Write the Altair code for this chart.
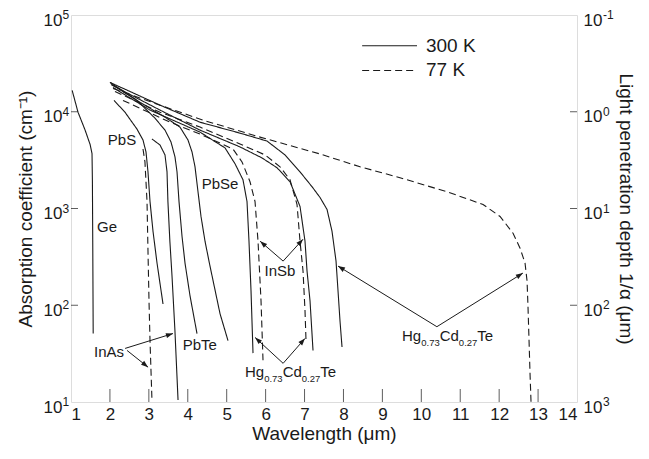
import math
import altair as alt
import pandas as pd

W, H = 506, 387
XDOM = [1, 14]
YDOM = [10, 100000]
FONT = "Liberation Sans"
INK = "#1a1a1a"

# ---- curves: wavelength (um) / absorption coefficient (cm^-1) ----
ge_x = [1.03, 1.18, 1.36, 1.49, 1.54, 1.55, 1.56, 1.57]
ge_y = [16600, 9900, 6500, 4600, 3700, 1900, 360, 51]

pbs_x = [2.105, 2.387, 2.696, 2.85, 2.927, 2.978, 3.03, 3.107, 3.21, 3.364]
pbs_y = [13100, 9890, 6610, 5100, 3840, 2390, 1180, 581, 273, 103]

inas300_x = [3.08, 3.287, 3.415, 3.467, 3.49, 3.54, 3.595, 3.67, 3.75]
inas300_y = [5230, 4530, 3580, 2390, 1180, 459, 201, 55, 10.5]

inas77_x = [2.85, 2.90, 2.953, 2.978, 3.004, 3.03, 3.08]
inas77_y = [4120, 3030, 1180, 362, 111, 43, 10.5]

pbte_x = [2.002, 2.696, 3.158, 3.415, 3.569, 3.672, 3.724, 3.775, 3.852, 3.929, 4.058, 4.237]
pbte_y = [20100, 13100, 8570, 6460, 4870, 3410, 2390, 1180, 517, 273, 125, 51]

pbse_x = [2.053, 2.773, 3.415, 3.80, 4.006, 4.109, 4.186, 4.263, 4.34, 4.443, 4.571, 4.828, 5.034]
pbse_y = [19100, 12500, 8790, 6940, 5100, 3840, 2700, 1490, 828, 459, 254, 82, 43]

e300_x = [2.079, 3.03, 4.314, 4.957, 5.214, 5.419, 5.522, 5.573, 5.625, 5.676]
e300_y = [17800, 10400, 6160, 4230, 2900, 1980, 1180, 459, 141, 32]

f77_x = [2.336, 3.544, 4.314, 5.162, 5.394, 5.599, 5.728, 5.805, 5.882, 5.933]
f77_y = [13100, 7800, 5880, 4120, 3030, 1890, 1180, 459, 111, 27]

g300_x = [2.028, 3.287, 4.314, 5.342, 5.908, 6.293, 6.627, 6.884, 7.012, 7.064, 7.141, 7.218]
g300_y = [19100, 10400, 6460, 4330, 3330, 2640, 1890, 1050, 459, 226, 111, 34]

h77_x = [2.13, 3.287, 4.314, 5.342, 5.985, 6.37, 6.627, 6.807, 6.884, 6.961, 7.012, 7.038]
h77_y = [16200, 9890, 6940, 4640, 3580, 2700, 1980, 1100, 459, 226, 88, 43]

i300_x = [2.002, 3.287, 4.314, 5.342, 6.036, 6.498, 6.884, 7.192, 7.398, 7.578, 7.706, 7.809, 7.86, 7.911, 7.963]
i300_y = [20100, 11700, 7800, 6010, 4980, 3580, 2390, 1680, 1300, 977, 581, 286, 141, 69, 37]

j77_x = [2.079, 3.287, 4.392, 5.856, 7.398, 8.425, 9.453, 10.661, 11.586, 12.023, 12.357,
         12.537, 12.665, 12.717, 12.742, 12.768, 12.793, 12.819]
j77_y = [17400, 11700, 8180, 5470, 3660, 2700, 2080, 1490, 1100, 828, 555,
         389, 273, 178, 94, 43, 19.8, 10]

curves = [
    ("ge", "300 K", ge_x, ge_y), ("pbs", "300 K", pbs_x, pbs_y),
    ("inas300", "300 K", inas300_x, inas300_y), ("inas77", "77 K", inas77_x, inas77_y),
    ("pbte", "300 K", pbte_x, pbte_y), ("pbse", "300 K", pbse_x, pbse_y),
    ("e300", "300 K", e300_x, e300_y), ("f77", "77 K", f77_x, f77_y),
    ("g300", "300 K", g300_x, g300_y), ("h77", "77 K", h77_x, h77_y),
    ("i300", "300 K", i300_x, i300_y), ("j77", "77 K", j77_x, j77_y),
]
rows = []
for name, temp, xs, ys in curves:
    for i, (a, b) in enumerate(zip(xs, ys)):
        rows.append(dict(curve=name, temp=temp, wl=a, alpha=b, idx=i))
df_curves = pd.DataFrame(rows)

# ---- labels ----
lab_text = ["Ge", "PbS", "PbSe", "InSb", "InAs", "PbTe"]
lab_x = [1.925, 2.31, 4.83, 6.37, 1.976, 4.31]
lab_y = [650, 5100, 1800, 226, 32.6, 38.5]
df_lab = pd.DataFrame(dict(t=lab_text, wl=lab_x, alpha=lab_y))

hg_x = [5.47, 9.505]
hg_y = [18.0, 42.6]
hg_parts = ["Hg", "0.73", "Cd", "0.27", "Te"]
hg_sub = [False, True, False, True, False]

# ---- arrows (origin -> tip) ----
arr_x0 = [2.39, 2.44, 6.45, 6.45, 6.45, 6.45, 10.40, 10.40]
arr_y0 = [35.8, 34.1, 286, 286, 25.1, 25.1, 60, 60]
arr_x1 = [3.62, 2.98, 5.86, 6.96, 5.73, 7.01, 7.86, 12.61]
arr_y1 = [51, 22.9, 459, 481, 46.4, 45.3, 254, 215]

# ---- legend ----
leg_temp = ["300 K", "77 K"]
leg_x1 = [8.48, 8.48]
leg_x2 = [9.89, 9.89]
leg_y = [48100, 26700]
leg_tx = [10.12, 10.12]

# ---- axis ticks ----
x_tick_vals = list(range(1, 15))
y_tick_vals = [10, 100, 1000, 10000, 100000]
r_tick_vals = [0.1, 1, 10, 100, 1000]


def to_px(x):
    return (x - XDOM[0]) / (XDOM[1] - XDOM[0]) * W


def to_py(y):
    return (math.log10(YDOM[1]) - math.log10(y)) / (math.log10(YDOM[1]) - math.log10(YDOM[0])) * H


arow, hrow = [], []
for k in range(len(arr_x0)):
    arow.append(dict(a=k, idx=0, wl=arr_x0[k], alpha=arr_y0[k]))
    arow.append(dict(a=k, idx=1, wl=arr_x1[k], alpha=arr_y1[k]))
    ang = math.degrees(math.atan2(to_py(arr_y1[k]) - to_py(arr_y0[k]),
                                  to_px(arr_x1[k]) - to_px(arr_x0[k]))) % 360
    hrow.append(dict(wl=arr_x1[k], alpha=arr_y1[k], ang=ang))
df_arr = pd.DataFrame(arow)
df_head = pd.DataFrame(hrow)

xsc = alt.Scale(domain=XDOM, nice=False, zero=False)
ysc = alt.Scale(type="log", domain=YDOM, nice=False)

x_enc = alt.X("wl:Q", scale=xsc, axis=alt.Axis(
    values=x_tick_vals, format="d", tickSize=0, domain=False, grid=False,
    labelFontSize=17, labelPadding=4, labelFont=FONT, labelColor=INK,
    title="Wavelength (μm)", titleFontSize=19, titlePadding=2, titleFont=FONT,
    titleFontWeight="normal", titleColor=INK))
y_enc = alt.Y("alpha:Q", scale=ysc, axis=alt.Axis(
    values=y_tick_vals, tickSize=0, domain=False, grid=False,
    labelExpr="'10'", labelOffset=5,
    labelFontSize=17, labelPadding=9, labelFont=FONT, labelColor=INK,
    title="Absorption coefficient (cm⁻¹)", titleFontSize=19, titlePadding=8,
    titleFont=FONT, titleFontWeight="normal", titleColor=INK))

dash_scale = alt.Scale(domain=["300 K", "77 K"], range=[[1, 0], [7, 4]])

lines = alt.Chart(df_curves).mark_line(color=INK, strokeWidth=1.1).encode(
    x=x_enc, y=y_enc, detail="curve:N", order="idx:Q",
    strokeDash=alt.StrokeDash("temp:N", scale=dash_scale, legend=None))

labels = alt.Chart(df_lab).mark_text(font=FONT, fontSize=15, color=INK,
                                     align="center", baseline="middle").encode(
    x=x_enc, y=y_enc, text="t:N")

hg_layers = []
dx = 0.0
df_hg = pd.DataFrame(dict(wl=hg_x, alpha=hg_y))
for part, sub in zip(hg_parts, hg_sub):
    fs = 9.5 if sub else 15
    hg_layers.append(alt.Chart(df_hg).mark_text(
        font=FONT, fontSize=fs, color=INK, align="left", baseline="alphabetic",
        dx=dx, dy=4.5 if sub else 0, text=part).encode(x=x_enc, y=y_enc))
    w = sum(0.278 if ch == "." else (0.722 if ch in "HC" else (0.611 if ch == "T" else 0.556)) for ch in part)
    dx += w * fs

arrows = alt.Chart(df_arr).mark_line(color=INK, strokeWidth=1).encode(
    x=x_enc, y=y_enc, detail="a:N", order="idx:Q")
heads = alt.Chart(df_head).mark_point(
    shape="M0,0L-1,-0.36L-1,0.36Z", size=196, filled=True, color=INK, opacity=1,
    strokeWidth=0).encode(x=x_enc, y=y_enc, angle=alt.Angle("ang:Q", scale=None))

df_leg = pd.DataFrame(dict(temp=leg_temp, wl=leg_x1, wl2=leg_x2, alpha=leg_y))
leg_lines = alt.Chart(df_leg).mark_rule(color=INK, strokeWidth=1.1).encode(
    x=x_enc, x2=alt.X2("wl2:Q"), y=y_enc,
    strokeDash=alt.StrokeDash("temp:N", scale=dash_scale, legend=None))
df_legt = pd.DataFrame(dict(temp=leg_temp, wl=leg_tx, alpha=leg_y))
leg_text = alt.Chart(df_legt).mark_text(font=FONT, fontSize=19, color=INK,
                                        align="left", baseline="middle").encode(
    x=x_enc, y=y_enc, text="temp:N")

df_xt = pd.DataFrame(dict(wl=x_tick_vals[1:-1]))
xticks = alt.Chart(df_xt).mark_tick(color=INK, thickness=1, size=13).encode(
    x=x_enc, y=alt.value(H - 6.5))
df_yt = pd.DataFrame(dict(alpha=y_tick_vals[1:-1]))
yticks_l = alt.Chart(df_yt).mark_tick(color=INK, thickness=1, size=7).encode(
    y=y_enc, x=alt.value(3.5))
yticks_r = alt.Chart(df_yt).mark_tick(color=INK, thickness=1, size=7).encode(
    y=y_enc, x=alt.value(W - 3.5))

# superscript exponents of the tick labels (left: alpha, right: depth = 1e4/alpha um)
sup_l = [str(round(math.log10(v))) for v in y_tick_vals]
sup_r = [str(round(4 - math.log10(v))) for v in y_tick_vals]
df_sup = pd.DataFrame(dict(alpha=y_tick_vals, sl=sup_l, sr=sup_r))
sups_l = alt.Chart(df_sup).mark_text(font=FONT, fontSize=12, color=INK, align="left",
                                     baseline="alphabetic", dy=4).encode(
    y=y_enc, x=alt.value(-8.5), text="sl:N")
sups_r = alt.Chart(df_sup).mark_text(font=FONT, fontSize=12, color=INK, align="left",
                                     baseline="alphabetic", dy=4).encode(
    y=y_enc, x=alt.value(W + 26), text="sr:N")

main = alt.layer(lines, arrows, heads, labels, *hg_layers, leg_lines, leg_text,
                 xticks, yticks_l, yticks_r, sups_l, sups_r)

df_r = pd.DataFrame(dict(depth=r_tick_vals))
right = alt.Chart(df_r).mark_point(opacity=0).encode(
    y=alt.Y("depth:Q", scale=alt.Scale(type="log", domain=[0.1, 1000], reverse=True, nice=False),
            axis=alt.Axis(orient="right", values=r_tick_vals, tickSize=0, domain=False, grid=False,
                          labelExpr="'10'", labelOffset=5,
                          labelFontSize=17, labelPadding=6, labelFont=FONT, labelColor=INK,
                          title="Light penetration depth 1/α (μm)", titleFontSize=19,
                          titlePadding=14, titleFont=FONT, titleFontWeight="normal",
                          titleColor=INK)))

chart = alt.layer(main, right).resolve_scale(y="independent").properties(
    width=W, height=H,
    autosize=alt.AutoSizeParams(type="none"),
    padding={"left": 63, "top": 7, "right": 64, "bottom": 49},
).configure_view(stroke="#333", strokeWidth=1).configure(background="white")

chart.save("out.html", embed_options={"renderer": "svg", "actions": False})
